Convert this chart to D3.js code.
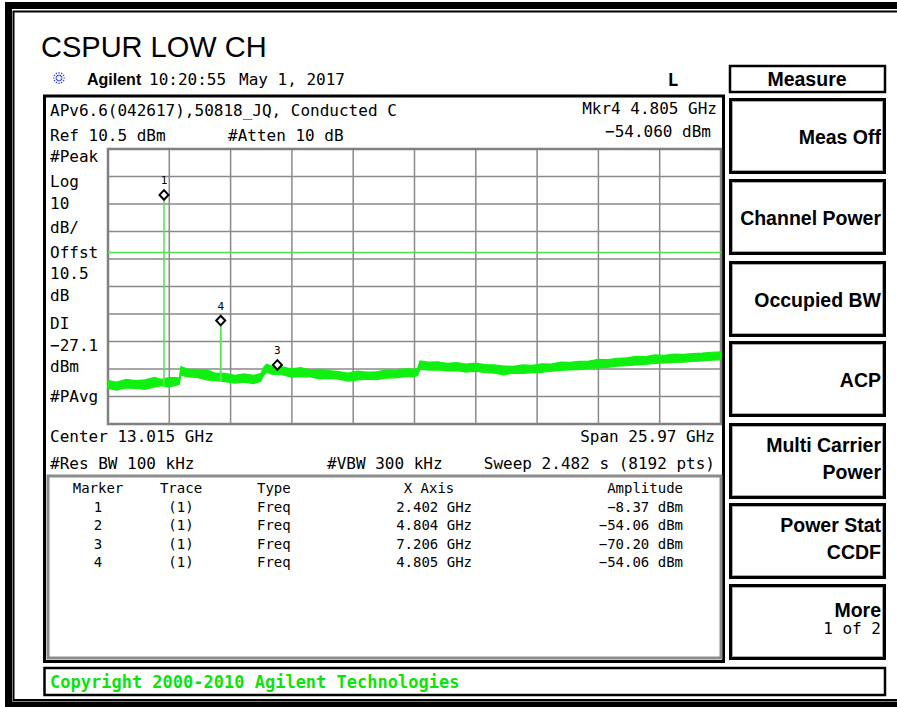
<!DOCTYPE html>
<meta charset="utf-8">
<style>
body { margin: 0; background: #fff; }
svg { display: block; }
.mono { font-family: "DejaVu Sans Mono", monospace; font-size: 16px; fill: #000; }
.tbl { font-family: "DejaVu Sans Mono", monospace; font-size: 14px; fill: #000; }
.btn { font-family: "Liberation Sans", Arial, sans-serif; font-weight: bold; font-size: 19.5px; fill: #000; }
.grid line { stroke: #8a8a8a; stroke-width: 1.5px; }
</style>
<svg width="897" height="707"></svg>
<script src="https://cdn.jsdelivr.net/npm/d3@7"></script>
<script>

// analyzer settings
var refLevel = 10.5, dbPerDiv = 10, centerFreq = 13.015, spanFreq = 25.97, displayLine = -27.1;

// noise floor: GHz, upper and lower edge in dBm
var traceFreq = [0.03, 0.4, 0.8, 1.2, 1.6, 2.0, 2.3, 2.6, 2.9, 3.05, 3.12, 3.4, 3.8, 4.2, 4.6, 5.0, 5.4, 5.8, 6.2, 6.5,
  6.62, 6.75, 7.0, 7.4, 7.8, 8.2, 8.6, 9.0, 9.4, 9.8, 10.2, 10.6, 11.0, 11.4, 11.8, 12.2, 12.6, 13.0, 13.15, 13.25,
  13.6, 14.0, 14.4, 14.8, 15.2, 15.6, 16.0, 16.4, 16.8, 17.2, 17.6, 18.0, 18.4, 18.8, 19.2, 19.6, 20.0, 20.4, 20.8, 21.2,
  21.6, 22.0, 22.4, 22.8, 23.2, 23.6, 24.0, 24.4, 24.8, 25.2, 25.6, 26.0];
var traceHi = [-73.7, -74.3, -73.3, -73.7, -73.4, -72.5, -73.3, -72.6, -72.6, -72.8, -68.6, -69.5, -69.7, -69.8, -71.1, -71.1, -71.8, -71.3, -71.8, -71.2,
  -69.0, -67.8, -68.6, -68.7, -69.4, -69.0, -69.9, -69.6, -70.1, -70.4, -71.0, -70.3, -70.6, -70.5, -69.9, -70.0, -69.4, -69.6, -69.2, -66.6,
  -67.0, -66.9, -67.4, -67.2, -67.7, -67.4, -67.9, -68.0, -68.4, -68.5, -68.0, -68.2, -67.6, -67.7, -67.0, -67.1, -66.7, -66.6, -66.0, -66.1,
  -65.6, -65.4, -64.9, -65.0, -64.4, -64.5, -64.1, -64.2, -63.9, -63.7, -63.4, -63.3];
var traceLo = [-76.6, -77.2, -76.4, -76.6, -76.9, -76.0, -75.6, -76.0, -75.5, -75.1, -71.7, -72.4, -72.6, -73.5, -73.7, -74.1, -74.6, -74.3, -74.8, -74.0,
  -71.9, -70.7, -71.5, -71.6, -72.5, -72.3, -72.4, -73.1, -72.9, -73.2, -73.9, -73.5, -73.2, -73.4, -72.8, -72.7, -72.3, -72.4, -71.8, -69.6,
  -69.9, -69.8, -70.2, -70.1, -70.6, -70.3, -70.8, -71.0, -71.6, -71.0, -71.1, -70.8, -70.7, -70.3, -70.0, -69.8, -69.7, -69.3, -69.1, -68.9,
  -68.5, -68.3, -68.0, -67.8, -67.5, -67.3, -67.1, -67.0, -66.7, -66.6, -66.3, -66.1];

// markers
var markerIds = [1, 2, 3, 4];
var markerFreqs = [2.402, 4.804, 7.206, 4.805];
var markerAmps = [-8.37, -54.06, -70.20, -54.06];

var sideLabels = ["#Peak", "Log", "10", "dB/", "Offst", "10.5", "dB", "DI", "-27.1", "dBm", "#PAvg"];
var sideBaselines = [162, 187, 209, 233, 258, 279, 301, 329, 351, 372, 402];

var buttons = [["Meas Off"], ["Channel Power"], ["Occupied BW"], ["ACP"], ["Multi Carrier", "Power"], ["Power Stat", "CCDF"], ["More", "1 of 2"]];

var svg = d3.select("svg");

// outer frame (right side is cut off)
svg.append("rect").attr("x", 8.5).attr("y", 5.5).attr("width", 920).attr("height", 699.5)
  .attr("fill", "none").attr("stroke", "#000").attr("stroke-width", 7);
svg.append("rect").attr("x", 13.5).attr("y", 11.5).attr("width", 920).attr("height", 688.5)
  .attr("fill", "none").attr("stroke", "#000").attr("stroke-width", 2);

svg.append("text").attr("x", 41).attr("y", 57)
  .style("font", "29px 'Liberation Sans', Arial, sans-serif").text("CSPUR LOW CH");

// agilent logo burst
var logo = svg.append("g").attr("transform", "translate(59,78)");
d3.range(12).forEach(function(i) {
  var a = i * Math.PI / 6;
  logo.append("line").attr("x1", 2 * Math.cos(a)).attr("y1", 2 * Math.sin(a))
    .attr("x2", 7 * Math.cos(a)).attr("y2", 7 * Math.sin(a))
    .attr("stroke", "#3040f0").attr("stroke-width", 1.2).attr("stroke-dasharray", "1.5,1");
});

svg.append("text").attr("x", 87).attr("y", 85)
  .style("font", "bold 16px 'Liberation Sans', Arial, sans-serif").text("Agilent");
svg.append("text").attr("class", "mono").attr("x", 149).attr("y", 85).text("10:20:55");
svg.append("text").attr("class", "mono").attr("x", 239).attr("y", 85).text("May 1, 2017");
svg.append("text").attr("class", "mono").attr("x", 673).attr("y", 86).attr("text-anchor", "middle")
  .style("font-weight", "bold").style("font-size", "18px").text("L");

// main panel
svg.append("rect").attr("x", 44.5).attr("y", 96).attr("width", 679).attr("height", 565.5)
  .attr("fill", "none").attr("stroke", "#000").attr("stroke-width", 3);

svg.append("text").attr("class", "mono").attr("x", 50).attr("y", 116).text("APv6.6(042617),50818_JQ, Conducted C");
svg.append("text").attr("class", "mono").attr("x", 50).attr("y", 141).text("Ref 10.5 dBm");
svg.append("text").attr("class", "mono").attr("x", 228).attr("y", 141).text("#Atten 10 dB");
svg.append("text").attr("class", "mono").attr("x", 717).attr("y", 114).attr("text-anchor", "end").text("Mkr4  4.805 GHz");
svg.append("text").attr("class", "mono").attr("x", 711).attr("y", 137).attr("text-anchor", "end").text("\u221254.060 dBm");

svg.selectAll(".side").data(sideLabels).enter().append("text")
  .attr("class", "mono side").attr("x", 50)
  .attr("y", function(d, i) { return sideBaselines[i]; })
  .text(function(d) { return d.replace("-", "\u2212"); });

// scales
var fStart = centerFreq - spanFreq / 2, fStop = centerFreq + spanFreq / 2;
var x = d3.scaleLinear().domain([fStart, fStop]).range([108, 721]);
var y = d3.scaleLinear().domain([refLevel - 10 * dbPerDiv, refLevel]).range([424, 149]);

var grid = svg.append("g").attr("class", "grid");
grid.selectAll(".gx").data(d3.range(11).map(function(i) { return fStart + i * spanFreq / 10; }))
  .enter().append("line")
  .attr("x1", function(d) { return x(d); }).attr("x2", function(d) { return x(d); })
  .attr("y1", y.range()[0]).attr("y2", y.range()[1]);
grid.selectAll(".gy").data(d3.range(11).map(function(i) { return refLevel - i * dbPerDiv; }))
  .enter().append("line")
  .attr("x1", x.range()[0]).attr("x2", x.range()[1])
  .attr("y1", function(d) { return y(d); }).attr("y2", function(d) { return y(d); });
svg.append("rect").attr("x", 108).attr("y", 149).attr("width", 613).attr("height", 275)
  .attr("fill", "none").attr("stroke", "#808080").attr("stroke-width", 2.5);

// display line
svg.append("line").attr("x1", x(fStart)).attr("x2", x(fStop))
  .attr("y1", y(displayLine)).attr("y2", y(displayLine))
  .attr("stroke", "#4fe04f").attr("stroke-width", 1.5);

// trace
var trace = traceFreq.map(function(f, i) { return {f: f, hi: traceHi[i], lo: traceLo[i]}; });
var area = d3.area().x(function(d) { return x(d.f); })
  .y0(function(d) { return y(d.lo); }).y1(function(d) { return y(d.hi); });
svg.append("path").datum(trace).attr("d", area)
  .attr("fill", "#10f010").attr("stroke", "#10f010").attr("stroke-width", 1.2);

var bis = d3.bisector(function(d) { return d.f; }).center;
var markers = markerIds.map(function(id, i) { return {id: id, f: markerFreqs[i], a: markerAmps[i]}; });

// peaks reaching up to the marker points
svg.selectAll(".peak").data(markers.filter(function(m) { return m.a > trace[bis(trace, m.f)].hi; }))
  .enter().append("line").attr("class", "peak")
  .attr("x1", function(d) { return x(d.f); }).attr("x2", function(d) { return x(d.f); })
  .attr("y1", function(d) { return y(trace[bis(trace, d.f)].lo); })
  .attr("y2", function(d) { return y(d.a); })
  .attr("stroke", "#55e855").attr("stroke-width", 1.6);

// marker diamonds, skip those hidden under a later marker
var shown = markers.filter(function(m, i) {
  return !markers.slice(i + 1).some(function(o) { return Math.abs(x(o.f) - x(m.f)) < 1 && Math.abs(y(o.a) - y(m.a)) < 1; });
});
var mk = svg.selectAll(".mk").data(shown).enter().append("g")
  .attr("transform", function(d) { return "translate(" + x(d.f) + "," + (y(d.a) - 6) + ")"; });
mk.append("path").attr("d", "M0,-4.8L4.5,0L0,4.8L-4.5,0Z")
  .attr("fill", "#fff").attr("stroke", "#000").attr("stroke-width", 2);
mk.append("text").attr("y", -11).attr("text-anchor", "middle")
  .style("font", "11px 'DejaVu Sans Mono', monospace").text(function(d) { return d.id; });

// settings below the graticule
svg.append("text").attr("class", "mono").attr("x", 50).attr("y", 442).text("Center 13.015 GHz");
svg.append("text").attr("class", "mono").attr("x", 715).attr("y", 442).attr("text-anchor", "end").text("Span 25.97 GHz");
svg.append("text").attr("class", "mono").attr("x", 50).attr("y", 469).text("#Res BW 100 kHz");
svg.append("text").attr("class", "mono").attr("x", 327).attr("y", 469).text("#VBW 300 kHz");
svg.append("text").attr("class", "mono").attr("x", 715).attr("y", 469).attr("text-anchor", "end").text("Sweep 2.482 s (8192 pts)");

// marker table
svg.append("rect").attr("x", 48).attr("y", 476).attr("width", 673).attr("height", 182)
  .attr("fill", "none").attr("stroke", "#8c8c8c").attr("stroke-width", 3);

var cols = [
  {head: "Marker", x: 98, anchor: "middle", val: function(d) { return d.id; }},
  {head: "Trace", x: 181, anchor: "middle", val: function() { return "(1)"; }},
  {head: "Type", x: 257, anchor: "start", val: function() { return "Freq"; }},
  {head: "X Axis", x: 429, anchor: "middle", vx: 472, vanchor: "end", val: function(d) { return d.f.toFixed(3) + " GHz"; }},
  {head: "Amplitude", x: 683, anchor: "end", val: function(d) { return d.a.toFixed(2).replace("-", "\u2212") + " dBm"; }}
];
cols.forEach(function(c) {
  svg.append("text").attr("class", "tbl").attr("x", c.x).attr("y", 493).attr("text-anchor", c.anchor).text(c.head);
  svg.selectAll(null).data(markers).enter().append("text").attr("class", "tbl")
    .attr("x", c.vx || c.x).attr("y", function(d, i) { return 512 + i * 18.4; })
    .attr("text-anchor", c.vanchor || c.anchor).text(c.val);
});

// soft keys
svg.append("rect").attr("x", 730).attr("y", 66).attr("width", 155).attr("height", 26)
  .attr("fill", "none").attr("stroke", "#000").attr("stroke-width", 2.5);
svg.append("text").attr("class", "btn").attr("x", 807).attr("y", 86).attr("text-anchor", "middle").text("Measure");

var btnTop = [98, 179, 261, 341, 423, 503, 584];
buttons.forEach(function(b, i) {
  var t = btnTop[i];
  svg.append("rect").attr("x", 730.5).attr("y", t + 1.5).attr("width", 154).attr("height", 73)
    .attr("fill", "none").attr("stroke", "#000").attr("stroke-width", 3);
  svg.append("rect").attr("x", 732.5).attr("y", t + 3.5).attr("width", 150).attr("height", 69)
    .attr("fill", "none").attr("stroke", "#aaa").attr("stroke-width", 1);
  if (b.length === 1) {
    svg.append("text").attr("class", "btn").attr("x", 881).attr("y", t + 46).attr("text-anchor", "end").text(b[0]);
  } else if (i === buttons.length - 1) {
    svg.append("text").attr("class", "btn").attr("x", 881).attr("y", t + 33).attr("text-anchor", "end").text(b[0]);
    svg.append("text").attr("class", "mono").attr("x", 881).attr("y", t + 50).attr("text-anchor", "end").text(b[1]);
  } else {
    svg.append("text").attr("class", "btn").attr("x", 881).attr("y", t + 29).attr("text-anchor", "end").text(b[0]);
    svg.append("text").attr("class", "btn").attr("x", 881).attr("y", t + 56).attr("text-anchor", "end").text(b[1]);
  }
});

// copyright bar
svg.append("rect").attr("x", 44.5).attr("y", 668).attr("width", 840.5).attr("height", 27)
  .attr("fill", "none").attr("stroke", "#000").attr("stroke-width", 2.5);
svg.append("text").attr("x", 50).attr("y", 688)
  .style("font", "bold 17px 'DejaVu Sans Mono', monospace").attr("fill", "#0be30b")
  .text("Copyright 2000-2010 Agilent Technologies");

</script>
